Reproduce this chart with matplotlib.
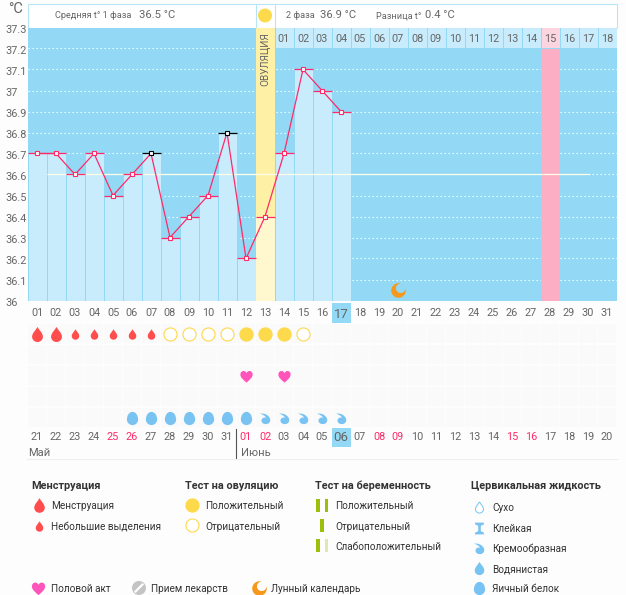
import numpy as np
import matplotlib
matplotlib.use('Agg')
import matplotlib.pyplot as plt
from matplotlib.path import Path
from matplotlib.patches import Rectangle, Circle
from matplotlib.transforms import ScaledTranslation

plt.rcParams['font.family'] = ['Roboto', 'DejaVu Sans']

# Data
cycle_days = np.arange(1, 32)
temps = [36.7, 36.7, 36.6, 36.7, 36.5, 36.6, 36.7, 36.3, 36.4, 36.5, 36.8, 36.2,
         36.4, 36.7, 37.1, 37.0, 36.9]
black_days = [7, 11]
ovulation_day = 13
pink_day = 28
today = 17
moon_day = 20
moon_temp = 36.05
coverline = 36.6
coverline_end = 29.6
y_ticks = [36, 36.1, 36.2, 36.3, 36.4, 36.5, 36.6, 36.7, 36.8, 36.9, 37, 37.1, 37.2, 37.3]
y_labels = ['36', '36.1', '36.2', '36.3', '36.4', '36.5', '36.6', '36.7', '36.8', '36.9',
            '37', '37.1', '37.2', '37.3']
phase2_first_day = 14
phase2_labels = ['%02d' % i for i in range(1, 19)]
dates = [21, 22, 23, 24, 25, 26, 27, 28, 29, 30, 31,
         1, 2, 3, 4, 5, 6, 7, 8, 9, 10, 11, 12, 13, 14, 15, 16, 17, 18, 19, 20]
weekend_days = [5, 6, 12, 13, 19, 20, 26, 27]
date_today = 17
month_break_day = 12

big_drop_days = [1, 2]
small_drop_days = [3, 4, 5, 6, 7]
open_test_days = [8, 9, 10, 11, 15]
full_test_days = [12, 13, 14]
heart_days = [12, 14]
egg_days = [6, 7, 8, 9, 10, 11, 12]
cream_days = [13, 14, 15, 16, 17]

# Colours
BG = '#fdfdfd'
SKY = '#93d9f5'
BAR = '#c9ecfd'
YEL = '#fef1a6'
YEL_L = '#fff8cf'
PINK = '#fcaec5'
PINK_L = '#fdd5e0'
RED = '#ff2a68'
GREY = '#666666'
DARK = '#333333'
DROP = '#ff4d4d'
SUN = '#fdd94c'
BLUE = '#78c3f2'
HEART = '#ff55bb'
MOON = '#f7981c'
GREEN = '#9bbf0a'

# Marker shapes
M, L, C = Path.MOVETO, Path.LINETO, Path.CURVE4
drop = Path([(0, 1), (0.25, 0.55), (0.72, 0.2), (0.72, -0.3), (0.72, -0.72), (0.38, -1), (0, -1),
             (-0.38, -1), (-0.72, -0.72), (-0.72, -0.3), (-0.72, 0.2), (-0.25, 0.55), (0, 1)],
            [M, C, C, C, C, C, C, C, C, C, C, C, C])
heart = Path([(0, -1), (-0.5, -0.55), (-1, -0.2), (-1, 0.3), (-1, 0.75), (-0.7, 0.9), (-0.48, 0.9),
              (-0.25, 0.9), (-0.08, 0.75), (0, 0.55), (0.08, 0.75), (0.25, 0.9), (0.48, 0.9),
              (0.7, 0.9), (1, 0.75), (1, 0.3), (1, -0.2), (0.5, -0.55), (0, -1)],
             [M, C, C, C, C, C, C, C, C, C, C, C, C, C, C, C, C, C, C])
egg = Path([(0, 1), (0.55, 1), (0.85, 0.4), (0.85, -0.15), (0.85, -0.65), (0.45, -1), (0, -1),
            (-0.45, -1), (-0.85, -0.65), (-0.85, -0.15), (-0.85, 0.4), (-0.55, 1), (0, 1)],
           [M, C, C, C, C, C, C, C, C, C, C, C, C])
comma = Path([(-0.95, 0.85), (-0.2, 1.0), (0.45, 0.65), (0.75, 0.1), (1.05, -0.5), (0.65, -1), (0.05, -1),
              (-0.45, -1), (-0.8, -0.65), (-0.7, -0.25), (-0.6, 0.1), (-0.2, 0.3), (0.1, 0.1),
              (-0.05, 0.5), (-0.5, 0.7), (-0.95, 0.85)],
             [M, C, C, C, C, C, C, C, C, C, C, C, C, C, C, C])
glass = Path([(-0.75, 1), (0.75, 1), (0.75, 0.7), (0.22, 0.45), (0.22, -0.45), (0.75, -0.7),
              (0.75, -1), (-0.75, -1), (-0.75, -0.7), (-0.22, -0.45), (-0.22, 0.45), (-0.75, 0.7),
              (-0.75, 1)])
a = np.radians(np.linspace(71.7, 378.3, 50))
b = np.radians(np.linspace(1, -271, 40))
moon = Path(np.vstack([np.c_[np.cos(a), np.sin(a)],
                       np.c_[0.3 + 0.65 * np.cos(b), 0.3 + 0.65 * np.sin(b)]]))

W, H = 626, 595
fig = plt.figure(figsize=(W / 100, H / 100), dpi=100, facecolor=BG)


def axes_px(x0, y0, x1, y1, z):
    return fig.add_axes([x0 / W, 1 - y1 / H, (x1 - x0) / W, (y1 - y0) / H], zorder=z)


# Page layer, pixel coordinates
page = axes_px(0, 0, W, H, 0)
page.set_xlim(0, W)
page.set_ylim(H, 0)
page.axis('off')

# Chart
ax = axes_px(27.5, 27.5, 616.5, 300.5, 2)
ax.set_xlim(0, 31)
ax.set_ylim(36, 37.3)
ax.set_facecolor(SKY)
for s in ax.spines.values():
    s.set_visible(False)

x = np.arange(1, len(temps) + 1) - 0.5
ax.hlines(y_ticks[:-1], 0, 31, colors='white', lw=0.8, linestyles=(0, (1.2, 2.4)), zorder=1)
ax.bar(x, np.array(temps) - 36, width=1, bottom=36, color=BAR, edgecolor=SKY, lw=0.7, zorder=2)

# Ovulation and pink columns
ax.bar(ovulation_day - 0.5, 1.3, width=1, bottom=36, color=YEL, zorder=3)
ax.bar(ovulation_day - 0.5, temps[ovulation_day - 1] - 36, width=1, bottom=36, color=YEL_L, zorder=3)
ax.bar(pink_day - 0.5, 1.3, width=1, bottom=36, color=PINK, zorder=3)

# Day strip of the second phase
strip_x = np.arange(phase2_first_day, 32) - 0.5
strip_colors = [PINK_L if d + 0.5 == pink_day else BAR for d in strip_x]
ax.bar(strip_x, 0.1, width=1, bottom=37.2, color=strip_colors, edgecolor=SKY, lw=0.7, zorder=4)
for d, t in zip(strip_x, phase2_labels):
    ax.text(d, 37.247, t, ha='center', va='center', fontsize=7.8, color=GREY, zorder=5)
ax.text(ovulation_day - 0.5, 37.15, 'ОВУЛЯЦИЯ', rotation=90, ha='center', va='center',
        fontsize=7.2, color=GREY, zorder=5)

ax.hlines(coverline, 1, coverline_end, colors='#fffde8', lw=0.9, zorder=4)

# Temperature curve
ax.plot(x, temps, color=RED, lw=0.9, zorder=5)
for i, (d, t) in enumerate(zip(x, temps)):
    is_black = (i + 1) in black_days
    col = 'black' if is_black else RED
    ax.hlines(t, d - 0.5, d + 0.5, colors=col, lw=0.9, zorder=6)
    ax.plot(d, t, 's', ms=2.6 if i + 1 == today else 3.5, mfc='white', mec=col, mew=0.8, zorder=7)
ax.plot(moon_day - 0.5, moon_temp, marker=moon, ms=10.5, color=MOON, mew=0, zorder=6)

# Ticks
ax.set_xticks(cycle_days - 0.5)
ax.set_xticklabels(['%02d' % d for d in cycle_days], fontsize=7.8, color=GREY)
ax.tick_params(axis='x', length=0, pad=5.2)
ax.set_yticks(y_ticks)
ax.set_yticklabels(y_labels, fontsize=7.8, color=GREY, ha='left')
ax.tick_params(axis='y', length=0, pad=16.2)
down = ScaledTranslation(0, -1.5 / 100, fig.dpi_scale_trans)
for lab in ax.get_yticklabels():
    lab.set_transform(lab.get_transform() + down)
page.add_patch(Rectangle((27.5 + (today - 1) * 19, 303), 19, 20, color=SKY, lw=0))
ax.get_xticklabels()[today - 1].set_fontsize(9.5)

# Header
page.text(8, 9, '°C', fontsize=10.5, color=GREY, va='center')
page.add_patch(Rectangle((27.5, 3.5), 589, 24, fc='white', ec='#b7e5f8', lw=0.8))
page.plot([255.5, 255.5], [3.5, 27.5], color='#b7e5f8', lw=0.8)
page.plot([274.5, 274.5], [3.5, 27.5], color='#b7e5f8', lw=0.8)
page.add_patch(Circle((265, 15.5), 7, color=SUN, lw=0))
page.text(55, 15.5, 'Средняя t° 1 фаза', fontsize=6.6, color=GREY, va='center')
page.text(139, 15.5, '36.5 °C', fontsize=8.1, color=GREY, va='center')
page.text(286, 15.5, '2 фаза', fontsize=6.6, color=GREY, va='center')
page.text(320, 15.5, '36.9 °C', fontsize=8.1, color=GREY, va='center')
page.text(376, 15.5, 'Разница t°', fontsize=6.6, color=GREY, va='center')
page.text(425, 15.5, '0.4 °C', fontsize=8.1, color=GREY, va='center')

# Symptom rows
rows = axes_px(27.5, 323, 616.5, 428, 2)
rows.set_xlim(0, 31)
rows.set_ylim(4.5, -0.5)
rows.axis('off')
for r in range(5):
    rows.bar(cycle_days - 0.5, 0.92, width=0.9, bottom=r - 0.46, color='#fafafa', zorder=1)
rows.plot(np.array(big_drop_days) - 0.5, [0] * len(big_drop_days), ls='', marker=drop, ms=10.8, color=DROP, mew=0, zorder=3)
rows.plot(np.array(small_drop_days) - 0.5, [0] * len(small_drop_days), ls='', marker=drop, ms=7.5, color=DROP, mew=0, zorder=3)
rows.plot(np.array(open_test_days) - 0.5, [0] * len(open_test_days), ls='', marker='o', ms=9.4, mfc='white', mec=SUN, mew=0.8, zorder=3)
rows.plot(np.array(full_test_days) - 0.5, [0] * len(full_test_days), ls='', marker='o', ms=10.3, color=SUN, mew=0, zorder=3)
rows.plot(np.array(heart_days) - 0.5, [2] * len(heart_days), ls='', marker=heart, ms=8.8, color=HEART, mew=0, zorder=3)
rows.plot(np.array(egg_days) - 0.5, [4] * len(egg_days), ls='', marker=egg, ms=9.5, color=BLUE, mew=0, zorder=3)
rows.plot(np.array(cream_days) - 0.5, [4] * len(cream_days), ls='', marker=comma, ms=8.5, color=BLUE, mew=0, zorder=3)

# Calendar dates
cal = axes_px(27.5, 428, 616.5, 447, 2)
cal.set_xlim(0, 31)
cal.set_ylim(1, 0)
cal.axis('off')
for d, v in zip(cycle_days, dates):
    if d == date_today:
        cal.bar(d - 0.5, 1, width=1, bottom=0, color=SKY)
    cal.text(d - 0.5, 0.48, '%02d' % v, ha='center', va='center',
             fontsize=9.5 if d == date_today else 7.8,
             color=RED if d in weekend_days else GREY)
cal_x = 27.5 + (month_break_day - 1) * 19
page.plot([cal_x - 0.5, cal_x - 0.5], [429, 458], color='#555555', lw=0.8)
page.text(28, 453, 'Май', fontsize=8, color=GREY, va='center')
page.text(241, 453, 'Июнь', fontsize=8, color=GREY, va='center')
page.plot([27, 617], [458.5, 458.5], color='#eeeeee', lw=0.8)


# Legend
def title(x, y, s):
    page.text(x, y, s, fontsize=7.8, fontweight='bold', color=DARK, va='center')


def item(x, y, s):
    page.text(x, y + 1, s, fontsize=7.2, color=DARK, va='center')


def icon(x, y, m, size, col):
    page.plot(x, y, marker=m, ms=size, color=col, mew=0, ls='')


title(31, 486, 'Менструация')
icon(38.5, 505, drop, 10.5, DROP)
item(51, 505, 'Менструация')
icon(38.5, 526, drop, 7.5, DROP)
item(51, 526, 'Небольшие выделения')

title(185, 486, 'Тест на овуляцию')
icon(192, 505, 'o', 10.3, SUN)
item(205, 505, 'Положительный')
page.plot(192, 525, marker='o', ms=9.4, mfc='white', mec=SUN, mew=0.8)
item(205, 526, 'Отрицательный')

title(315, 486, 'Тест на беременность')
for px_, py_, col in [(318, 505, GREEN), (326.5, 505, GREEN), (322, 525, GREEN),
                      (318, 545, GREEN), (326.5, 545, '#dfe8b5')]:
    page.add_patch(Rectangle((px_ - 1.7, py_ - 6.5), 3.4, 13, color=col, lw=0))
item(335, 505, 'Положительный')
item(335, 526, 'Отрицательный')
item(335, 546, 'Слабоположительный')

title(471, 486, 'Цервикальная жидкость')
page.plot(479, 507, marker=drop, ms=8, mfc='white', mec=BLUE, mew=0.7)
icon(479, 528, glass, 8.5, BLUE)
icon(479, 548, comma, 8.5, BLUE)
icon(479, 568, drop, 9.5, BLUE)
icon(479, 588, egg, 9.5, BLUE)
item(492, 507, 'Сухо')
item(492, 528, 'Клейкая')
item(492, 548, 'Кремообразная')
item(492, 568, 'Водянистая')
item(492, 588, 'Яичный белок')

icon(37.5, 588, heart, 9.5, HEART)
item(51, 588, 'Половой акт')
page.add_patch(Circle((139, 588), 7, color='#c4c4c4', lw=0))
page.plot([135.5, 142.5], [591.5, 584.5], color='white', lw=1.6)
item(151, 588, 'Прием лекарств')
icon(259, 588, moon, 10.5, MOON)
item(271, 588, 'Лунный календарь')

fig.savefig('out.png', dpi=100, facecolor=BG)
